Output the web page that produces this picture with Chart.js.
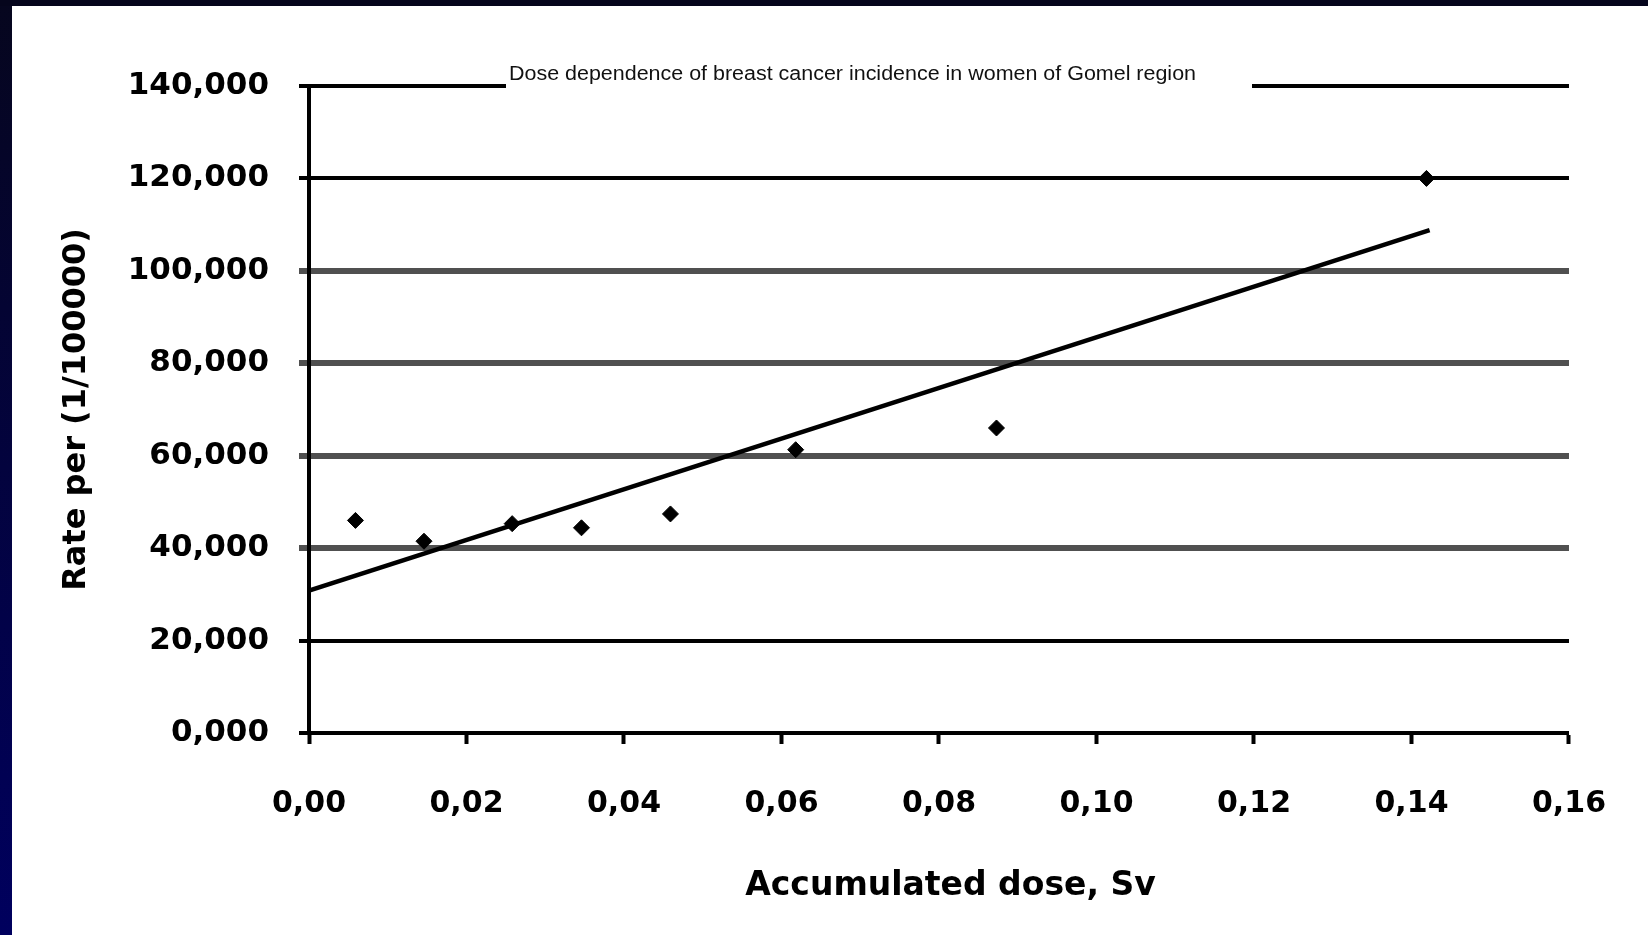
<!DOCTYPE html>
<html>
<head>
<meta charset="utf-8">
<script src="https://cdn.jsdelivr.net/npm/chart.js@4/dist/chart.umd.min.js"></script>
<style>
  html, body { margin: 0; padding: 0; background: #ffffff; }
  #wrap { position: relative; width: 1648px; height: 935px; }
  canvas { display: block; }
</style>
</head>
<body>
<div id="wrap"><canvas id="c" width="1648" height="935"></canvas></div>
<script>
// ---- data ----
const chartTitle = "Dose dependence of breast cancer incidence in women of Gomel region";
const xAxisTitle = "Accumulated dose, Sv";
const yAxisTitle = "Rate per (1/100000)";

const doseSv   = [0.0059, 0.0146, 0.0258, 0.0346, 0.0459, 0.0618, 0.0873, 0.1419];
const ratePer  = [46.0, 41.5, 45.3, 44.4, 47.4, 61.3, 66.0, 120.0];

const trendDose = [0.0, 0.1423];
const trendRate = [30.8, 108.8];

const xTicks = [0, 0.02, 0.04, 0.06, 0.08, 0.10, 0.12, 0.14, 0.16];
const yTicks = [0, 20, 40, 60, 80, 100, 120, 140];
const blackGridValues = [0, 20, 120, 140];

// ---- build ----
const pts = doseSv.map((x, i) => ({ x: x, y: ratePer[i] }));
const trend = trendDose.map((x, i) => ({ x: x, y: trendRate[i] }));

const framePlugin = {
  id: 'frame',
  beforeDraw(chart) {
    const ctx = chart.ctx;
    ctx.save();
    ctx.fillStyle = '#ffffff';
    ctx.fillRect(0, 0, chart.width, chart.height);
    const g = ctx.createLinearGradient(0, 0, 0, chart.height);
    g.addColorStop(0, '#06061e');
    g.addColorStop(1, '#00005e');
    ctx.fillStyle = g;
    ctx.fillRect(0, 0, 12, chart.height);
    ctx.fillStyle = '#05051c';
    ctx.fillRect(0, 0, chart.width, 6);
    ctx.restore();
  }
};

const titlePlugin = {
  id: 'innerTitle',
  afterDraw(chart) {
    const ctx = chart.ctx;
    const left = 509, targetW = 687, cy = 74.5;
    ctx.save();
    ctx.fillStyle = '#ffffff';
    ctx.fillRect(left - 3, 60, 1252 - (left - 3), 34);
    ctx.font = '20px "Liberation Sans", Arial, sans-serif';
    const w = ctx.measureText(chartTitle).width;
    ctx.translate(left, cy);
    ctx.scale(targetW / w, 1);
    ctx.fillStyle = '#111111';
    ctx.textAlign = 'left';
    ctx.textBaseline = 'middle';
    ctx.fillText(chartTitle, 0, 0);
    ctx.restore();
  }
};

new Chart(document.getElementById('c'), {
  type: 'scatter',
  data: {
    datasets: [
      {
        label: 'data',
        data: pts,
        showLine: false,
        pointStyle: 'rectRot',
        pointRadius: 8,
        pointBackgroundColor: '#000000',
        pointBorderColor: '#000000',
        pointBorderWidth: 1
      },
      {
        label: 'trend',
        data: trend,
        showLine: true,
        borderColor: '#000000',
        borderWidth: 4.5,
        pointRadius: 0,
        fill: false
      }
    ]
  },
  options: {
    responsive: false,
    animation: false,
    devicePixelRatio: 1,
    layout: { padding: { top: 86, right: 79, left: 0, bottom: 0 } },
    plugins: {
      legend: { display: false },
      tooltip: { enabled: false },
      title: { display: false }
    },
    scales: {
      x: {
        type: 'linear',
        min: 0, max: 0.16,
        afterBuildTicks(scale) { scale.ticks = xTicks.map(v => ({ value: v })); },
        afterFit(scale) { scale.height = 202; },
        grid: {
          drawOnChartArea: false,
          drawTicks: true,
          tickLength: 11,
          tickColor: '#000000',
          tickWidth: 4
        },
        border: { display: true, color: '#000000', width: 4 },
        ticks: {
          padding: 42,
          color: '#000000',
          font: { family: '"DejaVu Sans", sans-serif', weight: 'bold', size: 30 },
          callback: v => Number(v).toFixed(2).replace('.', ',')
        },
        title: {
          display: true,
          text: '  ' + xAxisTitle,
          color: '#000000',
          font: { family: '"DejaVu Sans", sans-serif', weight: 'bold', size: 33 },
          padding: { top: 0, bottom: 29 }
        }
      },
      y: {
        type: 'linear',
        min: 0, max: 140,
        afterBuildTicks(scale) { scale.ticks = yTicks.map(v => ({ value: v })); },
        afterFit(scale) { scale.width = 309; },
        grid: {
          drawOnChartArea: true,
          drawTicks: true,
          tickLength: 10,
          color: c => blackGridValues.includes(c.tick && c.tick.value) ? '#000000' : '#505050',
          lineWidth: c => blackGridValues.includes(c.tick && c.tick.value) ? 4 : 6
        },
        border: { display: true, color: '#000000', width: 4 },
        ticks: {
          padding: 30,
          color: '#000000',
          font: { family: '"DejaVu Sans", sans-serif', weight: 'bold', size: 31 },
          callback: v => Number(v).toFixed(3).replace('.', ',')
        },
        title: {
          display: true,
          text: yAxisTitle,
          color: '#000000',
          font: { family: '"DejaVu Sans", sans-serif', weight: 'bold', size: 32 },
          padding: { top: 57, bottom: 0 }
        }
      }
    }
  },
  plugins: [framePlugin, titlePlugin]
});
</script>
</body>
</html>
